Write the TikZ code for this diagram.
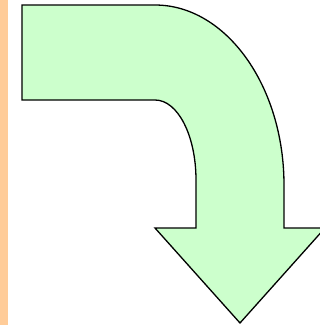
\documentclass[tikz,border=0pt]{standalone}
\begin{document}
\begin{tikzpicture}[x=1pt,y=-1pt,
  arrowshape/.style={fill=arrowgreen,draw=black,line width=1.3pt,line join=miter}]
\definecolor{arrowgreen}{HTML}{CCFFCC}
\definecolor{strip}{HTML}{FFCC99}
\useasboundingbox (0,0) rectangle (320,325);
\clip (0,0) rectangle (320,325);
\fill[white] (0,0) rectangle (320,325);
\fill[strip] (0,0) rectangle (8,325);
\draw[arrowshape]
  (22,5) -- (155,5)
  .. controls (226,5) and (284,86) .. (284,185)
  -- (284,228) -- (325,228) -- (240,323) -- (155,228) -- (196,228)
  -- (196,180)
  .. controls (196,136) and (178,100) .. (155,100)
  -- (22,100) -- cycle;
\end{tikzpicture}
\end{document}
